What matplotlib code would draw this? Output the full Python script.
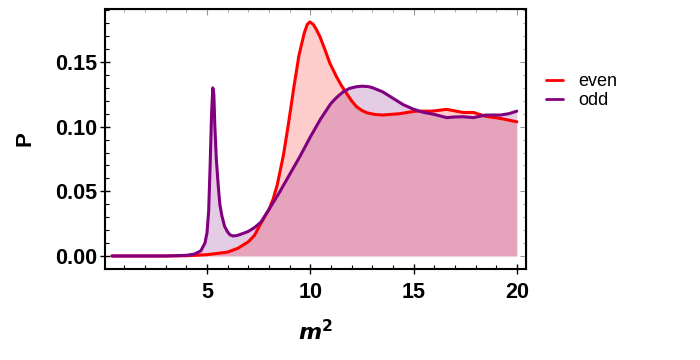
import matplotlib
matplotlib.use("Agg")
import matplotlib.pyplot as plt
from matplotlib.ticker import MultipleLocator

even_x = [0.4, 3.0, 4.0, 5.0, 5.5, 6.0, 6.5, 7.0, 7.3, 7.6, 8.0, 8.2, 8.4, 8.7,
          8.95, 9.2, 9.45, 9.7, 9.85, 9.98, 10.15, 10.3, 10.47, 10.7, 10.95,
          11.27, 11.5, 11.76, 12.0, 12.24, 12.5, 12.73, 13.1, 13.5, 14.3, 15.1,
          15.9, 16.6, 17.4, 17.9, 18.5, 19.2, 20.0]
even_y = [0.0, 0.0, 0.0002, 0.001, 0.002, 0.003, 0.006, 0.011, 0.016, 0.025,
          0.036, 0.044, 0.055, 0.078, 0.103, 0.13, 0.155, 0.172, 0.179, 0.181,
          0.179, 0.175, 0.1695, 0.160, 0.149, 0.1386, 0.132, 0.1257, 0.120,
          0.1154, 0.1125, 0.1108, 0.1095, 0.109, 0.110, 0.112, 0.112, 0.1134,
          0.111, 0.111, 0.108, 0.1064, 0.1038]

odd_x = [0.4, 1.0, 2.0, 3.0, 4.0, 4.4, 4.7, 4.9, 5.0, 5.08, 5.15, 5.22, 5.28,
         5.33, 5.38, 5.45, 5.54, 5.62, 5.72, 5.85, 5.98, 6.1, 6.25, 6.45, 6.7,
         7.0, 7.3, 7.6, 8.0, 8.5, 9.0, 9.5, 10.0, 10.5, 11.0, 11.3, 11.6, 11.9,
         12.2, 12.5, 12.8, 13.0, 13.5, 14.0, 14.5, 15.0, 15.5, 16.0, 16.6, 17.0,
         17.4, 17.9, 18.5, 19.2, 19.6, 20.0]
odd_y = [0.0, 0.0, 0.0, 0.0, 0.0005, 0.0015, 0.004, 0.010, 0.018, 0.035, 0.070,
         0.110, 0.130, 0.125, 0.100, 0.075, 0.055, 0.040, 0.031, 0.023, 0.019,
         0.0165, 0.0155, 0.0158, 0.0172, 0.019, 0.022, 0.026, 0.036, 0.049,
         0.063, 0.077, 0.092, 0.106, 0.118, 0.123, 0.127, 0.1296, 0.1308,
         0.1313, 0.131, 0.1302, 0.127, 0.122, 0.117, 0.1135, 0.111, 0.1095,
         0.107, 0.1075, 0.1077, 0.107, 0.109, 0.109, 0.110, 0.112]

series_names = ["even", "odd"]
x_ticks = [5, 10, 15, 20]
y_ticks = [0.00, 0.05, 0.10, 0.15]

plt.rcParams['font.family'] = ['Liberation Sans', 'DejaVu Sans']

fig = plt.figure(figsize=(7, 3.6), dpi=100)
ax = fig.add_axes([0.15, 0.253, 0.601, 0.722])

red = "#FF0000"
purple = "#800080"

ax.fill_between(even_x, 0, even_y, color=red, alpha=0.2, linewidth=0)
ax.fill_between(odd_x, 0, odd_y, color=purple, alpha=0.2, linewidth=0)
ax.plot(even_x, even_y, color=red, lw=2.2, label=series_names[0],
        solid_capstyle='round', solid_joinstyle='round')
ax.plot(odd_x, odd_y, color=purple, lw=2.2, label=series_names[1],
        solid_capstyle='round', solid_joinstyle='round')

ax.set_xlim(0.06, 20.43)
ax.set_ylim(-0.010, 0.191)

ax.set_xticks(x_ticks)
ax.set_xticklabels([str(t) for t in x_ticks])
ax.set_yticks(y_ticks)
ax.set_yticklabels([f"{t:.2f}" for t in y_ticks])
ax.xaxis.set_minor_locator(MultipleLocator(1))
ax.yaxis.set_minor_locator(MultipleLocator(0.01))

ax.tick_params(which='major', direction='inout', length=7, width=1, labelsize=15.5)
ax.tick_params(axis='x', which='major', pad=6)
ax.tick_params(axis='y', which='major', pad=2)
ax.tick_params(which='minor', direction='in', length=3, width=0.8)
ax.tick_params(axis='both', top=False, right=False)
for lab in ax.get_xticklabels() + ax.get_yticklabels():
    lab.set_fontweight('bold')

for sp in ax.spines.values():
    sp.set_linewidth(1.5)

# mirrored ticks on top and right in gray
secx = ax.secondary_xaxis('top')
secx.set_xticks(x_ticks)
secx.xaxis.set_minor_locator(MultipleLocator(1))
secx.tick_params(which='major', direction='in', length=4, color='#999999', labeltop=False)
secx.tick_params(which='minor', direction='in', length=2, color='#999999')
secx.set_xticklabels([])
secy = ax.secondary_yaxis('right')
secy.set_yticks(y_ticks)
secy.yaxis.set_minor_locator(MultipleLocator(0.01))
secy.tick_params(which='major', direction='in', length=4, color='#999999', labelright=False)
secy.tick_params(which='minor', direction='in', length=2, color='#999999')
secy.set_yticklabels([])

ax.set_xlabel(r"$\boldsymbol{m}^{\mathbf{2}}$", fontsize=16, labelpad=12)
ax.set_ylabel("P", fontsize=16, fontweight='bold', labelpad=14)

leg = ax.legend(loc='upper left', bbox_to_anchor=(1.03, 0.78), frameon=False,
                fontsize=13, handlelength=0.95, handletextpad=0.85, labelspacing=0.1,
                borderaxespad=0)
for line in leg.get_lines():
    line.set_linewidth(2)

fig.savefig("out.png", dpi=100)
